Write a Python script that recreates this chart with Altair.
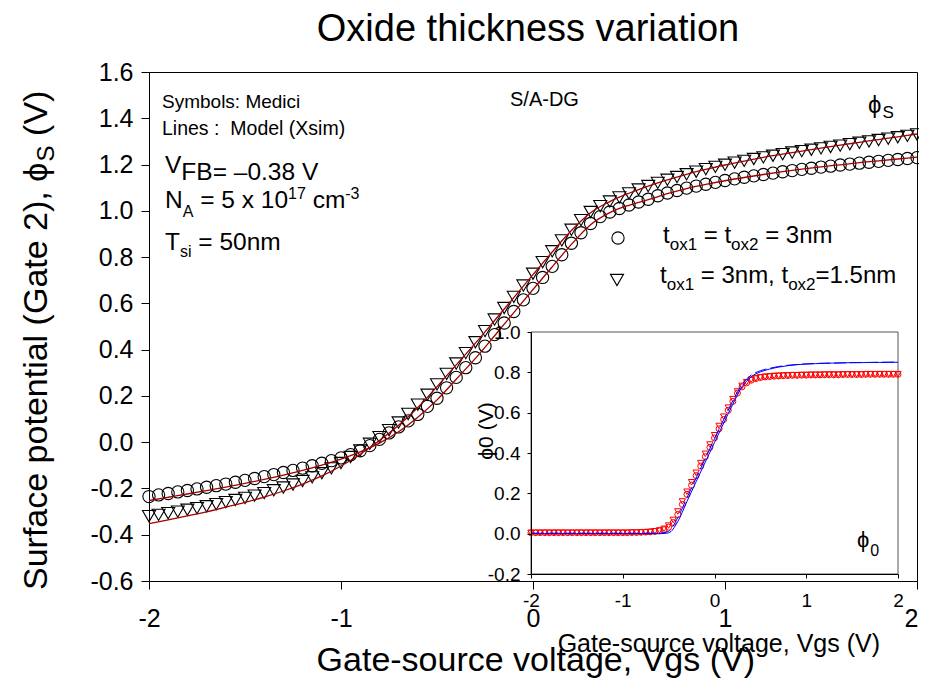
import altair as alt
import pandas as pd
import numpy as np

# ---------------- data ----------------
X_MAIN = np.round(np.linspace(-2.0, 2.0, 81), 2).tolist()
X_LINE = np.round(np.linspace(-2.0, 2.0, 41), 2).tolist()

PHI_S_CIRCLE = [
    -0.235, -0.228, -0.222, -0.215, -0.209, -0.202, -0.195, -0.188, -0.181, -0.173,
    -0.165, -0.157, -0.149, -0.140, -0.131, -0.122, -0.112, -0.102, -0.091, -0.080,
    -0.068, -0.054, -0.037, -0.015, 0.012, 0.040, 0.066, 0.092, 0.120, 0.155,
    0.190, 0.235, 0.280, 0.322, 0.365, 0.415, 0.465, 0.515, 0.565, 0.615,
    0.665, 0.712, 0.760, 0.810, 0.860, 0.905, 0.945, 0.975, 0.995, 1.010,
    1.025, 1.038, 1.050, 1.065, 1.077, 1.088, 1.098, 1.107, 1.115, 1.123,
    1.131, 1.138, 1.145, 1.151, 1.157, 1.163, 1.169, 1.174, 1.179, 1.184,
    1.189, 1.193, 1.198, 1.202, 1.206, 1.210, 1.214, 1.218, 1.222, 1.226,
    1.230]

PHI_S_TRIANGLE = [
    -0.320, -0.314, -0.307, -0.300, -0.292, -0.285, -0.277, -0.268, -0.259, -0.250,
    -0.241, -0.231, -0.220, -0.208, -0.196, -0.183, -0.168, -0.152, -0.134, -0.113,
    -0.090, -0.064, -0.036, -0.007, 0.022, 0.052, 0.085, 0.122, 0.162, 0.205,
    0.250, 0.295, 0.340, 0.385, 0.432, 0.480, 0.530, 0.580, 0.628, 0.677,
    0.728, 0.778, 0.825, 0.872, 0.918, 0.960, 0.995, 1.020, 1.040, 1.058,
    1.075, 1.092, 1.107, 1.121, 1.134, 1.146, 1.158, 1.169, 1.180, 1.190,
    1.199, 1.208, 1.216, 1.224, 1.231, 1.238, 1.245, 1.252, 1.258, 1.264,
    1.270, 1.276, 1.282, 1.288, 1.294, 1.300, 1.306, 1.312, 1.318, 1.324,
    1.330]

MODEL_CIRCLE = [
    -0.252, -0.238, -0.224, -0.209, -0.194, -0.178, -0.161, -0.142, -0.122, -0.099,
    -0.073, -0.042, -0.004, 0.045, 0.108, 0.183, 0.272, 0.362, 0.460, 0.560,
    0.660, 0.758, 0.855, 0.940, 0.992, 1.024, 1.048, 1.074, 1.096, 1.114,
    1.130, 1.144, 1.157, 1.169, 1.180, 1.190, 1.199, 1.208, 1.216, 1.224,
    1.232]

MODEL_TRIANGLE = [
    -0.352, -0.336, -0.319, -0.301, -0.281, -0.260, -0.237, -0.211, -0.181, -0.146,
    -0.103, -0.052, 0.007, 0.073, 0.150, 0.240, 0.334, 0.428, 0.526, 0.625,
    0.724, 0.822, 0.915, 0.992, 1.040, 1.076, 1.107, 1.134, 1.158, 1.179,
    1.198, 1.215, 1.231, 1.245, 1.258, 1.271, 1.284, 1.296, 1.308, 1.320,
    1.332]

PHI0_CIRCLE = [
    0.005, 0.005, 0.005, 0.005, 0.005, 0.005, 0.005, 0.005, 0.005, 0.005,
    0.005, 0.005, 0.005, 0.005, 0.005, 0.005, 0.005, 0.005, 0.005, 0.005,
    0.005, 0.005, 0.006, 0.006, 0.007, 0.008, 0.009, 0.011, 0.014, 0.020,
    0.032, 0.055, 0.095, 0.145, 0.195, 0.240, 0.288, 0.335, 0.382, 0.428,
    0.475, 0.520, 0.566, 0.612, 0.656, 0.697, 0.728, 0.748, 0.761, 0.769,
    0.774, 0.777, 0.779, 0.781, 0.782, 0.783, 0.784, 0.785, 0.785, 0.786,
    0.786, 0.787, 0.787, 0.787, 0.788, 0.788, 0.788, 0.788, 0.789, 0.789,
    0.789, 0.789, 0.789, 0.790, 0.790, 0.790, 0.790, 0.790, 0.790, 0.790,
    0.790]

PHI0_TRIANGLE = [
    0.004, 0.004, 0.004, 0.004, 0.004, 0.004, 0.004, 0.004, 0.004, 0.004,
    0.004, 0.004, 0.004, 0.004, 0.004, 0.004, 0.004, 0.004, 0.004, 0.004,
    0.004, 0.004, 0.005, 0.005, 0.006, 0.007, 0.009, 0.012, 0.016, 0.024,
    0.040, 0.068, 0.110, 0.160, 0.208, 0.255, 0.302, 0.350, 0.396, 0.442,
    0.488, 0.534, 0.580, 0.625, 0.667, 0.705, 0.733, 0.751, 0.763, 0.770,
    0.775, 0.778, 0.780, 0.782, 0.783, 0.784, 0.785, 0.786, 0.786, 0.787,
    0.787, 0.788, 0.788, 0.788, 0.789, 0.789, 0.789, 0.789, 0.790, 0.790,
    0.790, 0.790, 0.790, 0.791, 0.791, 0.791, 0.791, 0.791, 0.791, 0.791,
    0.791]

PHI0_MODEL_SOLID = [
    0.000, 0.000, 0.000, 0.000, 0.000, 0.000, 0.000, 0.000, 0.000, 0.000,
    0.000, 0.000, 0.000, 0.000, 0.000, 0.004, 0.060, 0.160, 0.258, 0.355,
    0.452, 0.548, 0.642, 0.728, 0.778, 0.802, 0.816, 0.826, 0.833, 0.838,
    0.841, 0.843, 0.845, 0.846, 0.847, 0.848, 0.848, 0.849, 0.849, 0.850,
    0.850]

PHI0_MODEL_DASHED = [
    0.002, 0.002, 0.002, 0.002, 0.002, 0.002, 0.002, 0.002, 0.002, 0.002,
    0.002, 0.002, 0.002, 0.002, 0.002, 0.012, 0.080, 0.178, 0.276, 0.373,
    0.470, 0.566, 0.660, 0.740, 0.786, 0.808, 0.820, 0.829, 0.835, 0.839,
    0.842, 0.844, 0.845, 0.846, 0.847, 0.848, 0.849, 0.849, 0.850, 0.850,
    0.851]

X_DOMAIN = [-2, 2]
Y_DOMAIN = [-0.6, 1.6]
X_TICKS = [-2, -1, 0, 1, 2]
Y_TICKS = [-0.6, -0.4, -0.2, 0.0, 0.2, 0.4, 0.6, 0.8, 1.0, 1.2, 1.4, 1.6]
INSET_X_DOMAIN = [-2, 2]
INSET_Y_DOMAIN = [-0.2, 1.0]
INSET_Y_TICKS = [-0.2, 0.0, 0.2, 0.4, 0.6, 0.8, 1.0]

# ---------------- layout constants ----------------
FONT = "Liberation Sans"
W, H = 768, 509
INSET_X_RANGE = [382, 749]
INSET_Y_RANGE = [502, 260]
RED_LINE = "#a00000"
NB = "\u00a0"

AW = {' ': 278, NB: 278, '(': 333, ')': 333, ',': 278, '-': 333, '.': 278, '/': 278,
      ':': 278, '=': 584, 'A': 667, 'B': 667, 'C': 722, 'D': 722, 'F': 611, 'G': 778,
      'L': 556, 'M': 833, 'N': 722, 'O': 778, 'S': 667, 'T': 611, 'V': 667, 'X': 667,
      'a': 556, 'b': 556, 'c': 500, 'd': 556, 'e': 556, 'f': 278, 'g': 556, 'h': 556,
      'i': 222, 'k': 500, 'l': 222, 'm': 833, 'n': 556, 'o': 556, 'p': 556, 'r': 333,
      's': 500, 't': 278, 'u': 556, 'v': 500, 'x': 500, 'y': 500, '\u2013': 556,
      '\u03d5': 600}


def tw(s, size):
    return sum(AW.get(c, 556) for c in s) * size / 1000.0


ONE = pd.DataFrame({"k": [0]})


def txt(x, y, text, size, align="left", baseline="alphabetic", angle=0):
    return alt.Chart(ONE).mark_text(
        text=text.replace(" ", NB), font=FONT, fontSize=size, align=align, baseline=baseline,
        angle=angle, color="black"
    ).encode(x=alt.value(x), y=alt.value(y))


def runs(x0, y0, parts, angle=0):
    """Rich text: consecutive runs (text, size, baseline shift); leading spaces are
    turned into an advance because the renderer trims them."""
    out = []
    pos = 0.0
    for text, size, shift in parts:
        body = text.lstrip(" ")
        pos += tw(text[:len(text) - len(body)], size)
        if angle == 0:
            x, y = x0 + pos, y0 + shift
        else:
            x, y = x0 + shift, y0 - pos
        out.append(txt(x, y, body, size, angle=angle))
        pos += tw(body, size)
    return out


neg_expr = "datum.value < 0 ? '-' + format(-datum.value, '{f}') : format(datum.value, '{f}')"

# ---------------- main plot ----------------
main_df = pd.DataFrame({"x": X_MAIN, "c": PHI_S_CIRCLE, "t": PHI_S_TRIANGLE})
line_df = pd.DataFrame({"x": X_LINE, "c": MODEL_CIRCLE, "t": MODEL_TRIANGLE})

x_enc = alt.X("x:Q", scale=alt.Scale(domain=X_DOMAIN, nice=False, zero=False),
              axis=alt.Axis(values=X_TICKS, labelExpr=neg_expr.format(f="d"), labelFont=FONT,
                            labelFontSize=25, labelColor="black", tickColor="black",
                            domainColor="black", tickSize=8, labelPadding=17, grid=False,
                            title=None, labelFlush=False, labelOverlap=False,
                            labelAlign=alt.condition("datum.value == 2", alt.value("right"),
                                                     alt.value("center")),
                            labelOffset=alt.condition("datum.value == 2", alt.value(1),
                                                      alt.value(0))))


def y_enc(field):
    return alt.Y(f"{field}:Q", scale=alt.Scale(domain=Y_DOMAIN, nice=False, zero=False),
                 axis=alt.Axis(values=Y_TICKS, labelExpr=neg_expr.format(f=".1f"), labelFont=FONT,
                               labelFontSize=25, labelColor="black", tickColor="black",
                               domainColor="black", tickSize=8, labelPadding=8, grid=False,
                               title=None, labelFlush=False, labelOverlap=False))


circles = alt.Chart(main_df).mark_point(shape="circle", filled=False, size=150, color="black",
                                        strokeWidth=1.1, opacity=1).encode(x=x_enc, y=y_enc("c"))
triangles = alt.Chart(main_df).mark_point(shape="triangle-down", filled=False, size=170, color="black",
                                          strokeWidth=1.1, opacity=1).encode(x=x_enc, y=y_enc("t"))
line_c = alt.Chart(line_df).mark_line(color=RED_LINE, strokeWidth=1.3, interpolate="monotone").encode(
    x=x_enc, y=y_enc("c"))
line_t = alt.Chart(line_df).mark_line(color=RED_LINE, strokeWidth=1.3, interpolate="monotone").encode(
    x=x_enc, y=y_enc("t"))

annotations = []
annotations += [txt(379, -31, "Oxide thickness variation", 38, align="center")]
annotations += runs(13, 36, [("Symbols: Medici", 19, 0)])
annotations += runs(13, 63, [("Lines :  Model (Xsim)", 19.5, 0)])
annotations += runs(16, 101, [("V", 24.5, 0), ("FB= \u20130.38 V", 24.5, 7)])
annotations += runs(16, 136, [("N", 24.5, 0), ("A", 16, 9), (" = 5 x 10", 24.5, 0), ("17", 16, -9),
                              (" cm", 24.5, 0), ("-3", 16, -9)])
annotations += runs(16, 178, [("T", 24.5, 0), ("si", 16, 7), (" = 50nm", 24.5, 0)])
annotations += runs(361, 34, [("S/A-DG", 20, 0)])
annotations += runs(719, 41, [("\u03d5", 24, 0), ("S", 17, 5)])
annotations += runs(514, 171, [("t", 24, 0), ("ox1", 17, 7), (" = t", 24, 0), ("ox2", 17, 7),
                               (" = 3nm", 24, 0)])
annotations += runs(511, 211, [("t", 24, 0), ("ox1", 17, 7), (" = 3nm, t", 24, 0), ("ox2", 17, 7),
                               ("=1.5nm", 24, 0)])
annotations += [txt(606, 599, "Gate-source voltage, Vgs (V)", 34, align="right")]
annotations += runs(-102, 518, [("Surface potential (Gate 2), \u03d5", 34, 0), ("S", 24, 7), (" (V)", 34, 0)],
                    angle=270)
annotations += [txt(731, 580, "Gate-source voltage, Vgs (V)", 25, align="right")]

legend_c = alt.Chart(ONE).mark_point(shape="circle", filled=False, size=150, color="black",
                                     strokeWidth=1.1, opacity=1).encode(x=alt.value(469), y=alt.value(166))
legend_t = alt.Chart(ONE).mark_point(shape="triangle-down", filled=False, size=170, color="black",
                                     strokeWidth=1.1, opacity=1).encode(x=alt.value(468), y=alt.value(208))

main = alt.layer(circles, triangles, line_c, line_t, legend_c, legend_t, *annotations)

# ---------------- inset ----------------
inset_df = pd.DataFrame({"ix": X_MAIN, "ic": PHI0_CIRCLE, "it": PHI0_TRIANGLE})
inset_line_df = pd.DataFrame({"ix": X_LINE, "s": PHI0_MODEL_SOLID, "d": PHI0_MODEL_DASHED})
box_df = pd.DataFrame({"ix": [INSET_X_DOMAIN[0]], "ix2": [INSET_X_DOMAIN[1]],
                       "iy": [INSET_Y_DOMAIN[0]], "iy2": [INSET_Y_DOMAIN[1]]})

ix_enc = alt.X("ix:Q", scale=alt.Scale(domain=INSET_X_DOMAIN, range=INSET_X_RANGE, nice=False, zero=False),
               axis=alt.Axis(values=X_TICKS, labelExpr=neg_expr.format(f="d"), labelFont=FONT,
                             labelFontSize=19, labelColor="black", tickColor="black",
                             domainColor="black", tickSize=4, labelPadding=13, grid=False,
                             title=None, labelFlush=False, labelOverlap=False, orient="bottom",
                             offset=-7, zindex=1))


def iy_enc(field):
    return alt.Y(f"{field}:Q",
                 scale=alt.Scale(domain=INSET_Y_DOMAIN, range=INSET_Y_RANGE, nice=False, zero=False),
                 axis=alt.Axis(values=INSET_Y_TICKS, labelExpr=neg_expr.format(f=".1f"), labelFont=FONT,
                               labelFontSize=19, labelColor="black", tickColor="black",
                               domainColor="black", tickSize=4, labelPadding=7, grid=False,
                               title=None, labelFlush=False, labelOverlap=False, orient="left",
                               offset=-382, zindex=1))


box = alt.Chart(box_df).mark_rect(fill="white", stroke="#555555", strokeWidth=1).encode(
    x=ix_enc, x2="ix2:Q", y=iy_enc("iy"), y2="iy2:Q")
in_c = alt.Chart(inset_df).mark_point(shape="circle", filled=False, size=36, color="#ff0000",
                                      strokeWidth=1, opacity=1).encode(x=ix_enc, y=iy_enc("ic"))
in_t = alt.Chart(inset_df).mark_point(shape="triangle-down", filled=False, size=40, color="#ff0000",
                                      strokeWidth=1, opacity=1).encode(x=ix_enc, y=iy_enc("it"))
in_s = alt.Chart(inset_line_df).mark_line(color="#0000ff", strokeWidth=1, interpolate="monotone").encode(
    x=ix_enc, y=iy_enc("s"))
in_d = alt.Chart(inset_line_df).mark_line(color="#0000ff", strokeWidth=1, strokeDash=[12, 4],
                                          interpolate="monotone").encode(x=ix_enc, y=iy_enc("d"))
inset_text = runs(708, 475, [("\u03d5", 22, 0), ("0", 16, 9)])
inset_text += [txt(338, 359, "\u03d50 (V)", 21, align="center", baseline="middle", angle=270)]

inset = alt.layer(box, in_c, in_t, in_s, in_d, *inset_text)

chart = alt.layer(main, inset).resolve_scale(x="independent", y="independent").properties(
    width=W, height=H,
    autosize=alt.AutoSizeParams(type="none"),
    padding={"left": 141, "top": 64, "right": 2, "bottom": 99},
).configure_view(stroke="black", strokeWidth=1)

chart.save("out.html", embed_options={"renderer": "svg", "actions": False})
